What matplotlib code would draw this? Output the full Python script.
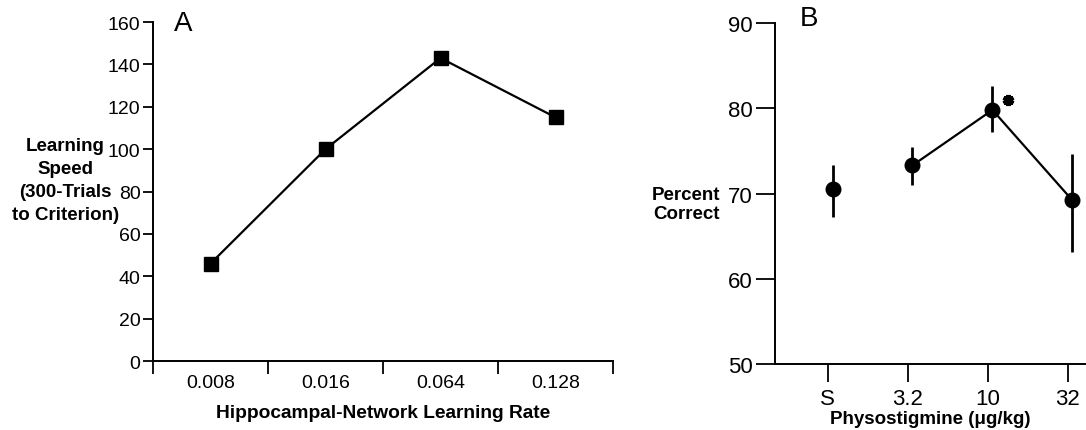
import matplotlib
matplotlib.use("Agg")
import matplotlib.pyplot as plt

plt.rcParams["font.family"] = ["Liberation Sans", "DejaVu Sans"]

# Panel A: simulated learning speed vs hippocampal-network learning rate
rate_labels = ["0.008", "0.016", "0.064", "0.128"]
learning_speed = [46, 100, 143, 115]
speed_label_lines = ["Learning", "Speed", "(300-Trials", "to Criterion)"]

# Panel B: percent correct vs physostigmine dose
dose_labels = ["S", "3.2", "10", "32"]
percent_correct = [70.5, 73.3, 79.8, 69.2]
percent_err_lo = [3.3, 2.3, 2.6, 6.1]
percent_err_hi = [2.8, 2.2, 2.8, 5.4]

fig = plt.figure(figsize=(10.86, 4.31), dpi=100)

# ---- Panel A ----
ax1 = fig.add_axes([0.1409, 0.160, 0.4236, 0.7866])
xa = [i + 0.5 for i in range(len(rate_labels))]
ax1.plot(xa, learning_speed, color="black", lw=1.6, marker="s", ms=9.5,
         mfc="black", mec="black")
ax1.set_xlim(0, 4)
ax1.set_ylim(0, 160)
ax1.set_yticks(range(0, 161, 20))
ax1.set_xticks(range(0, 5))
ax1.set_xticklabels([])
ax1.set_xticks(xa, minor=True)
ax1.set_xticklabels(rate_labels, minor=True)
ax1.tick_params(axis="x", which="major", direction="out", length=9, width=1.3)
ax1.tick_params(axis="x", which="minor", length=0, pad=9, labelsize=14)
ax1.tick_params(axis="y", direction="out", length=7, width=1.3, labelsize=14, pad=2)
for side in ["top", "right"]:
    ax1.spines[side].set_visible(False)
for side in ["left", "bottom"]:
    ax1.spines[side].set_linewidth(1.4)
ax1.set_xlabel("Hippocampal-Network Learning Rate", fontsize=13.8,
               fontweight="bold", labelpad=10)
# y label drawn line by line, centred to the left of the tick labels
for k, line in enumerate(speed_label_lines):
    fig.text(0.0600, 0.661 - k * 0.0536, line, ha="center", va="center",
             fontsize=13.5, fontweight="bold")
fig.text(0.160, 0.945, "A", fontsize=20, va="center")

# ---- Panel B ----
ax2 = fig.add_axes([0.7136, 0.1531, 0.2864, 0.7912])
xb = [i + 0.06 for i in range(len(dose_labels))]
ax2.errorbar(xb, percent_correct, yerr=[percent_err_lo, percent_err_hi],
             fmt="none", ecolor="black", elinewidth=2.0, capsize=0)
ax2.plot(xb[1:], percent_correct[1:], color="black", lw=1.6)
ax2.plot(xb, percent_correct, ls="none", marker="o", ms=10.5,
         mfc="black", mec="black")
# significance mark next to the 10 ug/kg point
ax2.plot(xb[2] + 0.19, percent_correct[2] + 1.2, marker=(6, 2, 0), ms=8,
         mew=3, color="black")
ax2.set_xlim(-0.66, 3.23)
ax2.set_ylim(50, 90)
ax2.set_yticks(range(50, 91, 10))
ax2.set_xticks(range(len(dose_labels)))
ax2.set_xticklabels(dose_labels)
ax2.tick_params(axis="x", direction="out", length=13, width=1.3,
                labelsize=16, pad=4)
ax2.tick_params(axis="y", direction="out", length=14, width=1.3,
                labelsize=16, pad=2)
for side in ["top", "right"]:
    ax2.spines[side].set_visible(False)
for side in ["left", "bottom"]:
    ax2.spines[side].set_linewidth(1.4)
ax2.set_xlabel("Physostigmine (\u03bcg/kg)", fontsize=13.5,
               fontweight="bold", labelpad=1)
fig.text(0.632, 0.524, "Percent\nCorrect", ha="center", va="center",
         fontsize=13.5, fontweight="bold", linespacing=1.15)
fig.text(0.7365, 0.955, "B", fontsize=20, va="center")

fig.savefig("out.png", dpi=100)
